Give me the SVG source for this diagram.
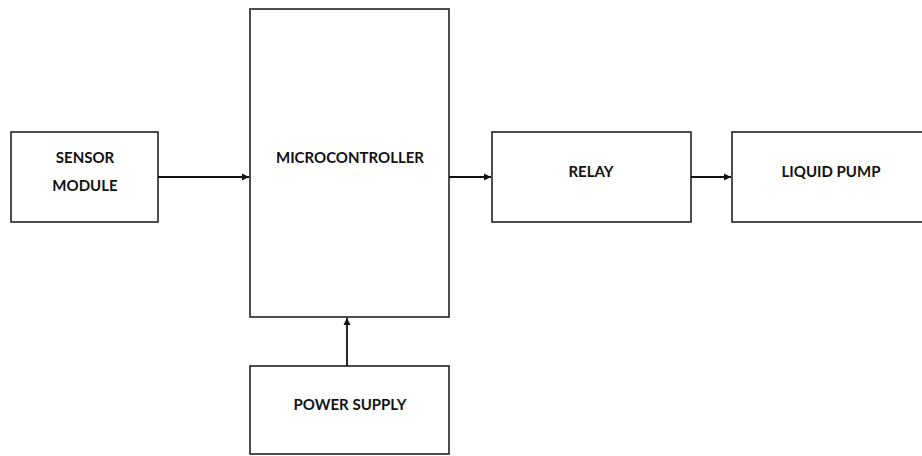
<svg xmlns="http://www.w3.org/2000/svg" width="922" height="456" viewBox="0 0 922 456">
<style>
.box{fill:#fff;stroke:#222;stroke-width:1.6}
.lbl{font-family:Lato,"Open Sans","Liberation Sans",sans-serif;font-weight:bold;font-size:15px;fill:#111;text-anchor:middle}
.con{stroke:#111;stroke-width:1.8;fill:none}
</style>
<defs>
<marker id="ah" viewBox="0 0 10 10" refX="10" refY="5" markerWidth="4" markerHeight="4" orient="auto" markerUnits="strokeWidth">
<path d="M0,0 L10,5 L0,10 z" fill="#111"/>
</marker>
</defs>
<rect width="922" height="456" fill="#fff"/>
<g id="sensor"><rect class="box" x="11" y="132" width="147" height="90"/><text class="lbl" x="85" y="163">SENSOR</text><text class="lbl" x="85" y="191">MODULE</text></g>
<g id="micro"><rect class="box" x="250" y="9" width="199" height="308"/><text class="lbl" x="350" y="163">MICROCONTROLLER</text></g>
<g id="relay"><rect class="box" x="492" y="132" width="199" height="90"/><text class="lbl" x="591" y="177">RELAY</text></g>
<g id="pump"><rect class="box" x="732" y="132" width="200" height="90"/><text class="lbl" x="831" y="177">LIQUID PUMP</text></g>
<g id="power"><rect class="box" x="250" y="366" width="199" height="88"/><text class="lbl" x="350" y="410">POWER SUPPLY</text></g>
<g id="connectors">
<line class="con" x1="158" y1="177" x2="249" y2="177" marker-end="url(#ah)"/>
<line class="con" x1="449" y1="177" x2="491" y2="177" marker-end="url(#ah)"/>
<line class="con" x1="691" y1="177" x2="731" y2="177" marker-end="url(#ah)"/>
<line class="con" x1="347" y1="366" x2="347" y2="318" marker-end="url(#ah)"/>
</g>
</svg>
